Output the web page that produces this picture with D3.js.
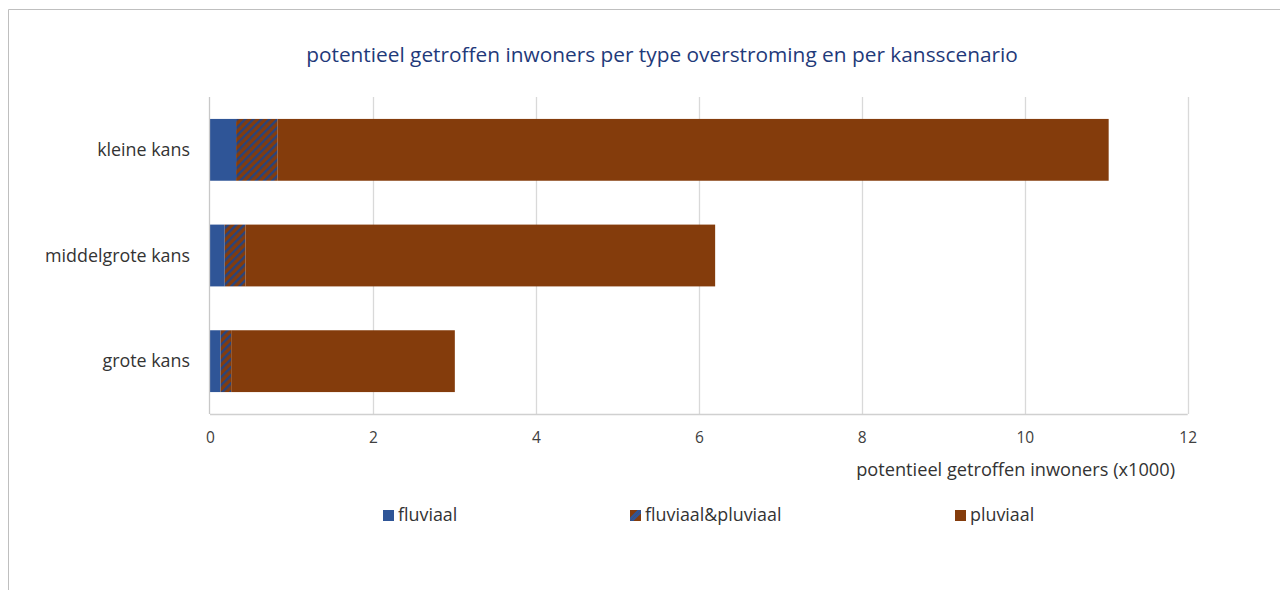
<!DOCTYPE html>
<html>
<head>
<meta charset="utf-8">
<script src="https://cdn.jsdelivr.net/npm/d3@7"></script>
<style>
  html, body { margin: 0; padding: 0; background: #fff; }
  svg { display: block; }
  text { font-family: "Open Sans", "Noto Sans", sans-serif; }
</style>
</head>
<body>
<svg id="chart" width="1280" height="590"></svg>
<script>
const categories = ["kleine kans", "middelgrote kans", "grote kans"];
const seriesNames = ["fluviaal", "fluviaal&pluviaal", "pluviaal"];
const fluviaal = [0.32, 0.18, 0.13];
const fluviaalPluviaal = [0.51, 0.255, 0.13];
const pluviaal = [10.20, 5.765, 2.745];
const xTicks = [0, 2, 4, 6, 8, 10, 12];
const titleText = "potentieel getroffen inwoners per type overstroming en per kansscenario";
const xAxisTitle = "potentieel getroffen inwoners (x1000)";

const colBlue = "#2F5597", colBrown = "#843C0C", colStripe = "#26447F";

const svg = d3.select("#chart");
const defs = svg.append("defs");
const pat = defs.append("pattern").attr("id", "hatch").attr("patternUnits", "userSpaceOnUse")
  .attr("width", 5.7).attr("height", 8).attr("patternTransform", "rotate(45)");
pat.append("rect").attr("width", 5.7).attr("height", 8).attr("fill", colBrown);
pat.append("rect").attr("x", 0).attr("width", 2.4).attr("height", 8).attr("fill", colStripe);

// frame
svg.append("line").attr("x1", 8.5).attr("x2", 1280).attr("y1", 9.5).attr("y2", 9.5).attr("stroke", "#bfbfbf");
svg.append("line").attr("x1", 8.5).attr("x2", 8.5).attr("y1", 9.5).attr("y2", 590).attr("stroke", "#bfbfbf");

const pLeft = 210, pRight = 1187.7, pTop = 97, pBottom = 414;
const x = d3.scaleLinear().domain([0, 12]).range([pLeft, pRight]);
const y = d3.scaleBand().domain(categories).range([pTop, pBottom]).paddingInner(0.415).paddingOuter(0.2075);

// gridlines
svg.append("g").selectAll("line").data(xTicks.slice(1)).join("line")
  .attr("x1", d => Math.round(x(d)) + 0.5).attr("x2", d => Math.round(x(d)) + 0.5)
  .attr("y1", pTop).attr("y2", pBottom).attr("stroke", "#d9d9d9").attr("stroke-width", 1.3);

const rows = categories.map((c, i) => ({ cat: c, vals: [fluviaal[i], fluviaalPluviaal[i], pluviaal[i]] }));
const fills = [colBlue, "url(#hatch)", colBrown];
rows.forEach(r => {
  let acc = 0;
  r.vals.forEach((v, j) => {
    svg.append("rect").attr("x", x(acc)).attr("width", x(acc + v) - x(acc))
      .attr("y", y(r.cat)).attr("height", y.bandwidth()).attr("fill", fills[j]);
    acc += v;
  });
});

// axis lines
svg.append("line").attr("x1", pLeft).attr("x2", pRight).attr("y1", pBottom + 0.5).attr("y2", pBottom + 0.5)
  .attr("stroke", "#d0d0d0").attr("stroke-width", 1.3);
svg.append("line").attr("x1", pLeft - 0.5).attr("x2", pLeft - 0.5).attr("y1", pTop).attr("y2", pBottom)
  .attr("stroke", "#c8c8c8").attr("stroke-width", 1.3);

// x tick labels
const xAxis = d3.axisBottom(x).tickValues(xTicks).tickSize(0).tickPadding(0).tickFormat(d3.format("d"));
const gx = svg.append("g").attr("transform", `translate(0,${pBottom})`).call(xAxis);
gx.select(".domain").remove();
gx.selectAll("text").attr("y", 29).attr("dy", 0).attr("fill", "#404040")
  .attr("font-size", 15.5).attr("font-family", '"Open Sans", sans-serif');

// y labels
const yAxis = d3.axisLeft(y).tickSize(0).tickPadding(0);
const gy = svg.append("g").attr("transform", `translate(190,0)`).call(yAxis);
gy.select(".domain").remove();
gy.selectAll("text").attr("fill", "#333333").attr("font-size", 16).attr("dy", "0.35em")
  .attr("font-family", '"Open Sans", sans-serif');

function fitWidth(sel, w) {
  const n = sel.node();
  const cur = n.getComputedTextLength();
  const fs = parseFloat(sel.attr("font-size"));
  sel.attr("font-size", fs * w / cur);
}

// title
const t = svg.append("text").attr("x", 662).attr("y", 62).attr("text-anchor", "middle")
  .attr("fill", "#1F3A7A").attr("font-size", 19).text(titleText);
fitWidth(t, 712);

// axis title
const at = svg.append("text").attr("x", 1175).attr("y", 476).attr("text-anchor", "end")
  .attr("fill", "#333333").attr("font-size", 15).text(xAxisTitle);
fitWidth(at, 319);

// fit category labels widths
const midLabel = gy.selectAll("text").filter(d => d === "middelgrote kans");
fitWidth(midLabel, 145);
const fsCat = parseFloat(midLabel.attr("font-size"));
gy.selectAll("text").attr("font-size", fsCat);

// legend
const legX = [383, 630, 955];
const legFills = [colBlue, null, colBrown];
const leg = svg.append("g");
seriesNames.forEach((name, i) => {
  const g = leg.append("g").attr("transform", `translate(${legX[i]},510)`);
  if (i === 1) {
    g.append("rect").attr("width", 11).attr("height", 11).attr("fill", colBrown);
    g.append("path").attr("d", "M0,11 L11,0 L11,3.5 L3.5,11 Z").attr("fill", colBlue);
    g.append("path").attr("d", "M0,11 L0,7.5 L7.5,0 L11,0 Z").attr("fill", colBlue);
  } else {
    g.append("rect").attr("width", 11).attr("height", 11).attr("fill", legFills[i]);
  }
  g.append("text").attr("x", 15).attr("y", 11).attr("fill", "#333333").attr("font-size", fsCat).text(name);
});
</script>
</body>
</html>
